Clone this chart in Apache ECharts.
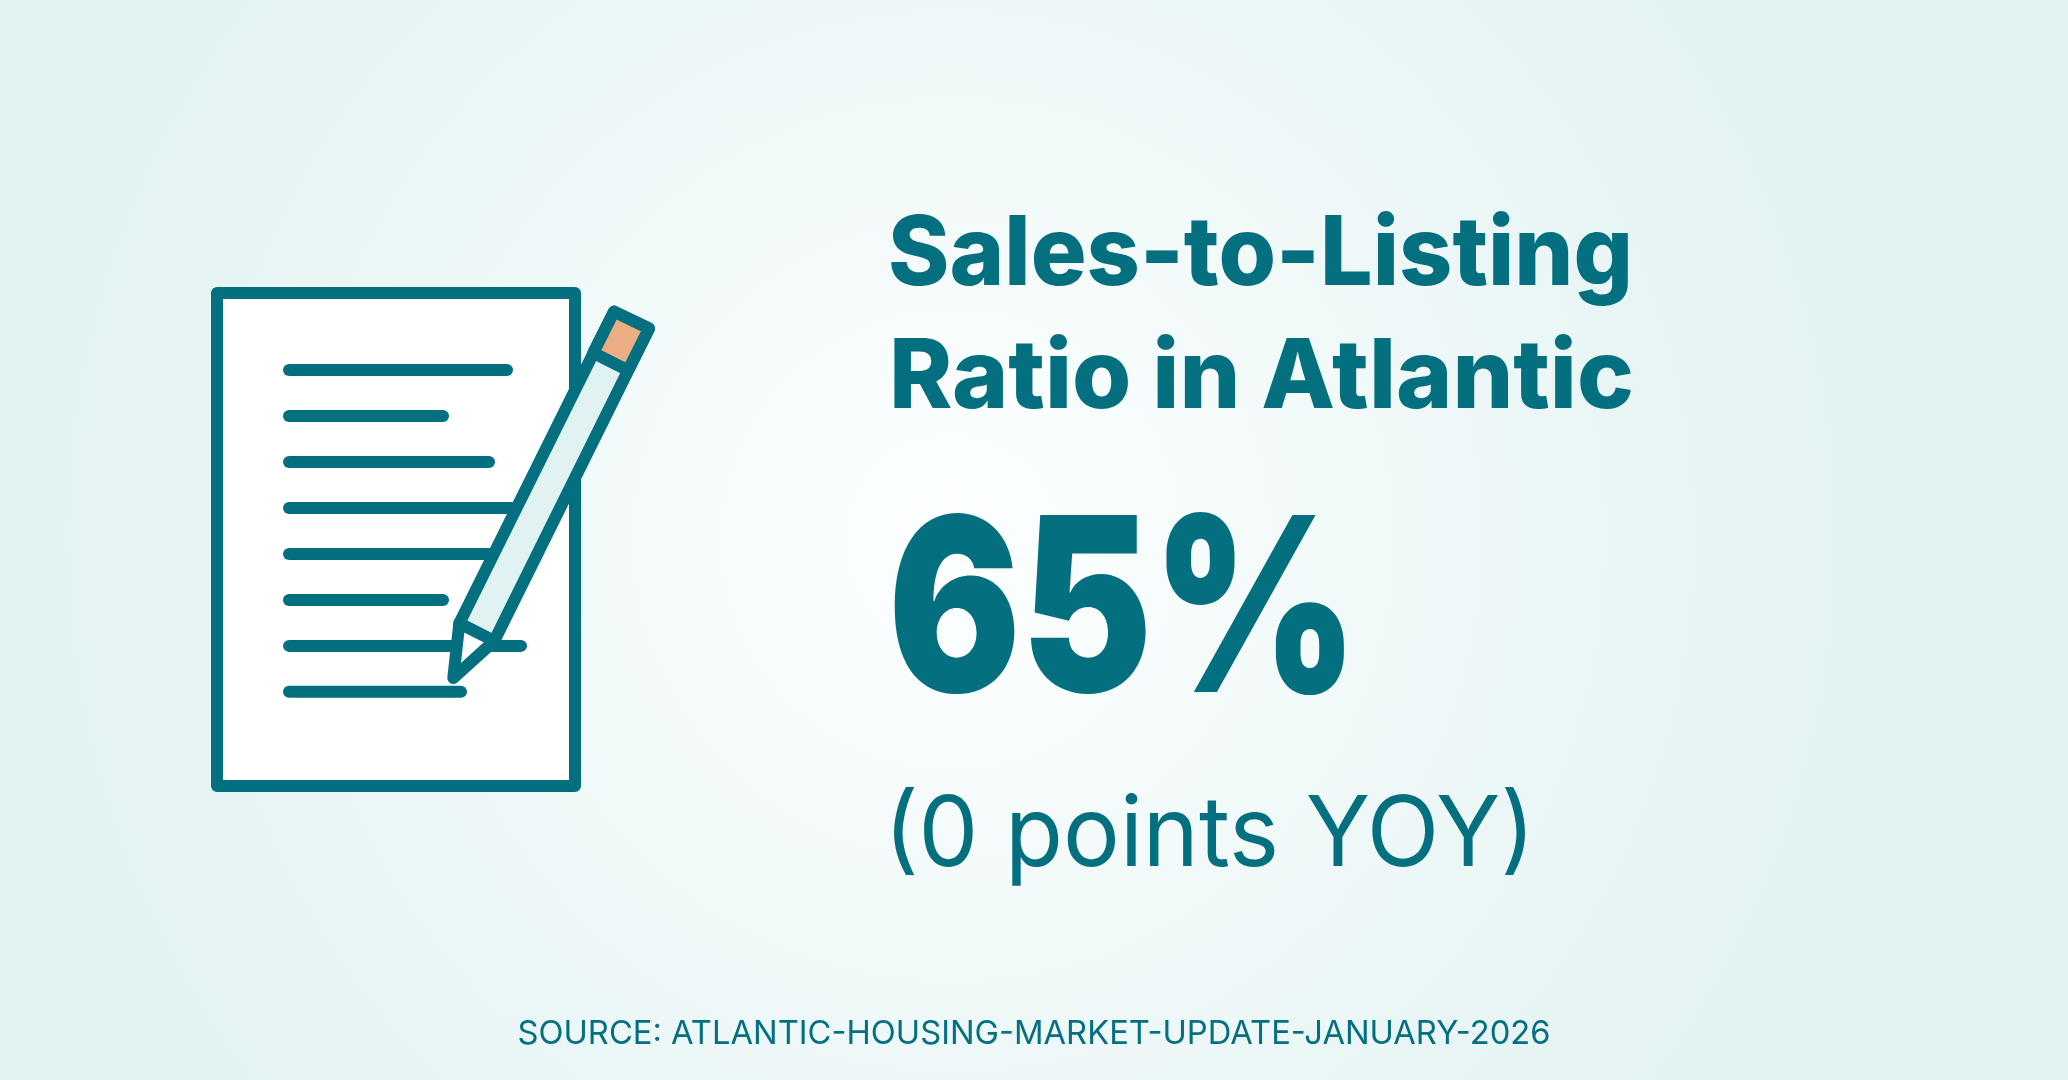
<!DOCTYPE html>
<html>
<head>
    <meta charset="utf-8">
    <title>Sales-to-Listing Ratio in Atlantic</title>
    <script src="https://cdn.jsdelivr.net/npm/echarts@6/dist/echarts.min.js"></script>
    <style>
        html, body { margin: 0; padding: 0; }
        #chart { width: 2068px; height: 1080px; }
    </style>
</head>
<body>
<div id="chart"></div>
<script>
    var titleLines = ['Sales-to-Listing', 'Ratio in Atlantic'];
    var ratioValue = 65;
    var pointsChange = 0;
    var sourceText = 'SOURCE: ATLANTIC-HOUSING-MARKET-UPDATE-JANUARY-2026';
    // length of the ruled lines on the sheet
    var sheetLines = [230, 166, 212, 240, 225, 166, 244, 184];

    var teal = '#04707f';
    var fontName = 'Inter, "Noto Sans", sans-serif';
    var chart = echarts.init(document.getElementById('chart'));

    // squeeze a text to the width it has in the picture
    var measure = document.createElement('canvas').getContext('2d');
    function textItem(text, x, baseline, size, weight, width) {
        measure.font = weight + ' ' + size + 'px Inter';
        return {
            type: 'text',
            x: x,
            y: baseline - size * 0.8,
            scaleX: width / measure.measureText(text).width,
            style: {
                text: text,
                fill: teal,
                fontFamily: fontName,
                fontSize: size,
                fontWeight: weight
            }
        };
    }

    function stroke(fill) {
        return { fill: fill, stroke: teal, lineWidth: 12, lineJoin: 'round', lineCap: 'round' };
    }

    var items = [];

    // sheet of paper
    items.push({ type: 'rect', shape: { x: 217, y: 293, width: 358, height: 493 }, style: stroke('#ffffff') });
    sheetLines.forEach(function (len, i) {
        var y = 370 + i * 45.98;
        items.push({ type: 'line', shape: { x1: 289, y1: y, x2: 277 + len, y2: y }, style: stroke(null) });
    });

    // pencil
    items.push({ type: 'polygon', shape: { points: [[614, 311.6], [649, 328.5], [494.2, 641], [459.3, 623.3]] }, style: stroke('#e1f2f2') });
    items.push({ type: 'polygon', shape: { points: [[614, 311.6], [649, 328.5], [628, 370.4], [593.3, 352.8]] }, style: stroke('#ebae84') });
    items.push({ type: 'polygon', shape: { points: [[459.3, 623.3], [494.2, 641], [453.3, 678]] }, style: stroke('#ffffff') });

    // texts
    items.push(textItem(titleLines[0], 888, 285, 96, 800, 745));
    items.push(textItem(titleLines[1], 889, 408, 96, 800, 745));
    items.push(textItem(ratioValue + '%', 888, 692, 243, 900, 470));
    items.push(textItem('(' + pointsChange + ' points YOY)', 884, 866, 97, 400, 651));
    items.push(textItem(sourceText, 517.5, 1044, 33, 400, 1033));

    chart.setOption({
        backgroundColor: {
            type: 'radial',
            x: 0.46,
            y: 0.5,
            r: 0.85,
            colorStops: [
                { offset: 0, color: '#fdffff' },
                { offset: 1, color: '#e3f2f2' }
            ]
        },
        graphic: { elements: items }
    });
</script>
</body>
</html>
